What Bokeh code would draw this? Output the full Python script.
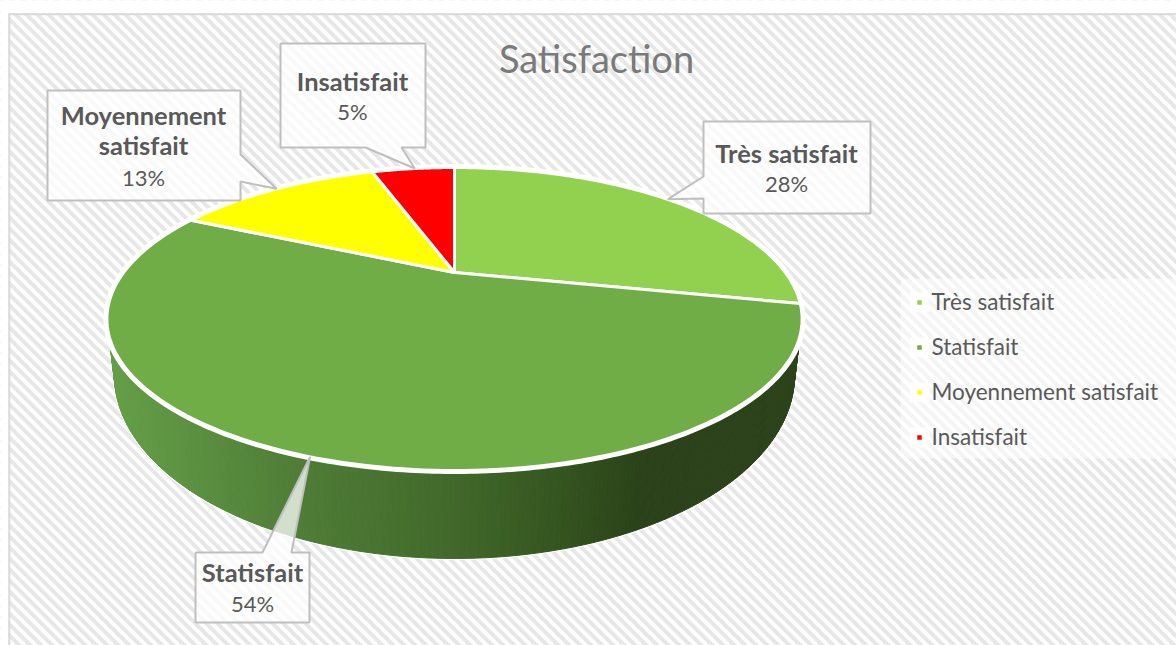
import numpy as np
from bokeh.plotting import figure
from bokeh.models import Range1d
from bokeh.core.properties import value
from bokeh.embed import file_html
from bokeh.resources import INLINE

title = "Satisfaction"
categories = ["Très satisfait", "Statisfait", "Moyennement satisfait", "Insatisfait"]
shares = [28.4, 53.7, 12.7, 5.2]
shown_shares = [28, 54, 13, 5]
colors = ["#92d050", "#70ad47", "#ffff00", "#ff0000"]

# layout, in page pixels
LEFT, TOP, W, H = 0, 0, 1176, 645
CX, CY = 454.0, 272.0
AX, BY, K = 330.8, 137.2, 0.307
TEXT = "#595959"
FONT = value("Lato")

p = figure(width=W, height=H, output_backend="svg", toolbar_location=None,
           x_range=Range1d(LEFT, LEFT + W), y_range=Range1d(TOP + H, TOP),
           min_border=0, outline_line_color=None, background_fill_color="white",
           border_fill_color="white")
p.axis.visible = False
p.grid.visible = False


def project(turn):
    """fraction of the full circle, clockwise from the top -> page pixels of the tilted disc"""
    a = 2 * np.pi * np.asarray(turn, dtype=float)
    X, Y = np.sin(a), np.cos(a)
    d = 1 + K * Y
    return CX + AX * X / d, CY - BY * Y / d


# background stripes
offs = np.arange(-1200, 660, 11.0)
p.segment(x0=[0.0] * len(offs), y0=offs, x1=[1300.0] * len(offs), y1=offs + 1300,
          line_color="#e7e7e7", line_width=4)
p.quad(left=[LEFT], right=[LEFT + W], top=[TOP], bottom=[13], fill_color="white", line_color=None)
p.quad(left=[LEFT], right=[8], top=[TOP], bottom=[TOP + H], fill_color="white", line_color=None)
p.line([8.8, 8.8], [13, TOP + H], line_color="#d9d9d9", line_width=2)
p.line([8, LEFT + W], [13.8, 13.8], line_color="#d9d9d9", line_width=2)

# side wall: strips between the front rim and the lower rim
RX1, RY1, YC1 = 347.0, 151.0, 318.5
RX2, RY2, YC2 = 340.0, 183.0, 375.0
stop_x = [107, 300, 450, 560, 640, 802]
stop_c = [(0x65, 0x9f, 0x48), (0x4f, 0x7d, 0x37), (0x42, 0x6a, 0x2b),
          (0x35, 0x55, 0x20), (0x2b, 0x43, 0x1a), (0x2b, 0x42, 0x1a)]
t = np.linspace(0, np.pi, 241)
tx = CX + RX1 * np.cos(t); ty = YC1 + RY1 * np.sin(t)
bx = CX + RX2 * np.cos(t); by = YC2 + RY2 * np.sin(t)
p.line(bx, by, line_color="white", line_width=3)
p.line([tx[0], bx[0]], [ty[0], by[0]], line_color="white", line_width=3)
p.line([tx[-1], bx[-1]], [ty[-1], by[-1]], line_color="white", line_width=3)
sx, sy, sc = [], [], []
for i in range(len(t) - 1):
    sx.append([tx[i], tx[i + 1], bx[i + 1], bx[i]])
    sy.append([ty[i], ty[i + 1], by[i + 1], by[i]])
    m = 0.5 * (tx[i] + tx[i + 1])
    rgb = [int(np.interp(m, stop_x, [c[j] for c in stop_c])) for j in range(3)]
    sc.append("#%02x%02x%02x" % tuple(rgb))
p.patches(sx, sy, fill_color=sc, line_color=sc, line_width=1)

# the slices
cum = np.cumsum([0] + shares) / sum(shares)
wx, wy = [], []
for a, b in zip(cum[:-1], cum[1:]):
    ex, ey = project(np.linspace(a, b, 160))
    wx.append([CX] + list(ex))
    wy.append([CY] + list(ey))
rimx, rimy = project(np.linspace(0, 1, 500))
p.line(rimx, rimy, line_color="white", line_width=7, line_join="round")
p.patches(wx, wy, fill_color=colors, line_color="white", line_width=3, line_join="round")

# callouts: (left, right, top, bottom, side of the tail, tail start, tail end)
boxes = [
    (703, 870, 121, 213, "left", 176, 198),
    (195, 309, 552, 622, "top", 262, 291),
    (47, 240, 90, 200, "right", 154, 181),
    (280, 425, 43, 147, "bottom", 365, 401),
]
shown_cum = np.cumsum([0] + shown_shares) / sum(shown_shares)
mids = 0.5 * (shown_cum[:-1] + shown_cum[1:])
for (l, r, tp, bt, side, s0, s1), mid in zip(boxes, mids):
    tipx, tipy = project(mid)
    tipx, tipy = float(tipx), float(tipy)
    if side == "left":
        xs = [l, r, r, l, l, tipx, l]; ys = [tp, tp, bt, bt, s1, tipy, s0]
    elif side == "right":
        xs = [l, r, r, tipx, r, r, l]; ys = [tp, tp, s0, tipy, s1, bt, bt]
    elif side == "top":
        xs = [l, s0, tipx, s1, r, r, l]; ys = [tp, tp, tipy, tp, tp, bt, bt]
    else:
        xs = [l, r, r, s1, tipx, s0, l]; ys = [tp, tp, bt, bt, tipy, bt, bt]
    p.patch(xs, ys, fill_color="white", fill_alpha=0.75, line_color="#bfbfbf", line_width=2)

# callout texts
name_lines = [["Très satisfait"], ["Statisfait"], ["Moyennement", "satisfait"], ["Insatisfait"]]
label_cx = [786, 252, 143, 352]
label_y = [[152, 183], [571, 603], [114, 144, 177], [80, 111]]
for lines, share, x, ys in zip(name_lines, shown_shares, label_cx, label_y):
    for ln, y in zip(lines, ys):
        p.text([x], [y], text=[ln], text_font=FONT, text_font_style="bold", text_font_size="25.5px",
               text_color=TEXT, text_align="center", text_baseline="middle")
    p.text([x], [ys[-1]], text=[f"{share}%"], text_font=FONT, text_font_size="22px",
           text_color=TEXT, text_align="center", text_baseline="middle")

# title
p.text([596], [57], text=[title], text_font=FONT, text_font_size="38px", text_color="#7a7a7a",
       text_align="center", text_baseline="middle")

# legend
p.quad(left=[900], right=[LEFT + W], top=[278], bottom=[458], fill_color="white", fill_alpha=0.55, line_color=None)
legend_y = [302, 347, 392, 437]
p.rect([919] * 4, legend_y, width=20, height=20, fill_color="white", fill_alpha=0.8, line_color=None)
p.rect([919] * 4, legend_y, width=4.5, height=4.5, fill_color=colors, line_color=None)
p.text([931] * 4, [y - 1 for y in legend_y], text=categories, text_font=FONT, text_font_size="22.5px",
       text_color=TEXT, text_align="left", text_baseline="middle")

open("out.html", "w").write(file_html(p, INLINE))
